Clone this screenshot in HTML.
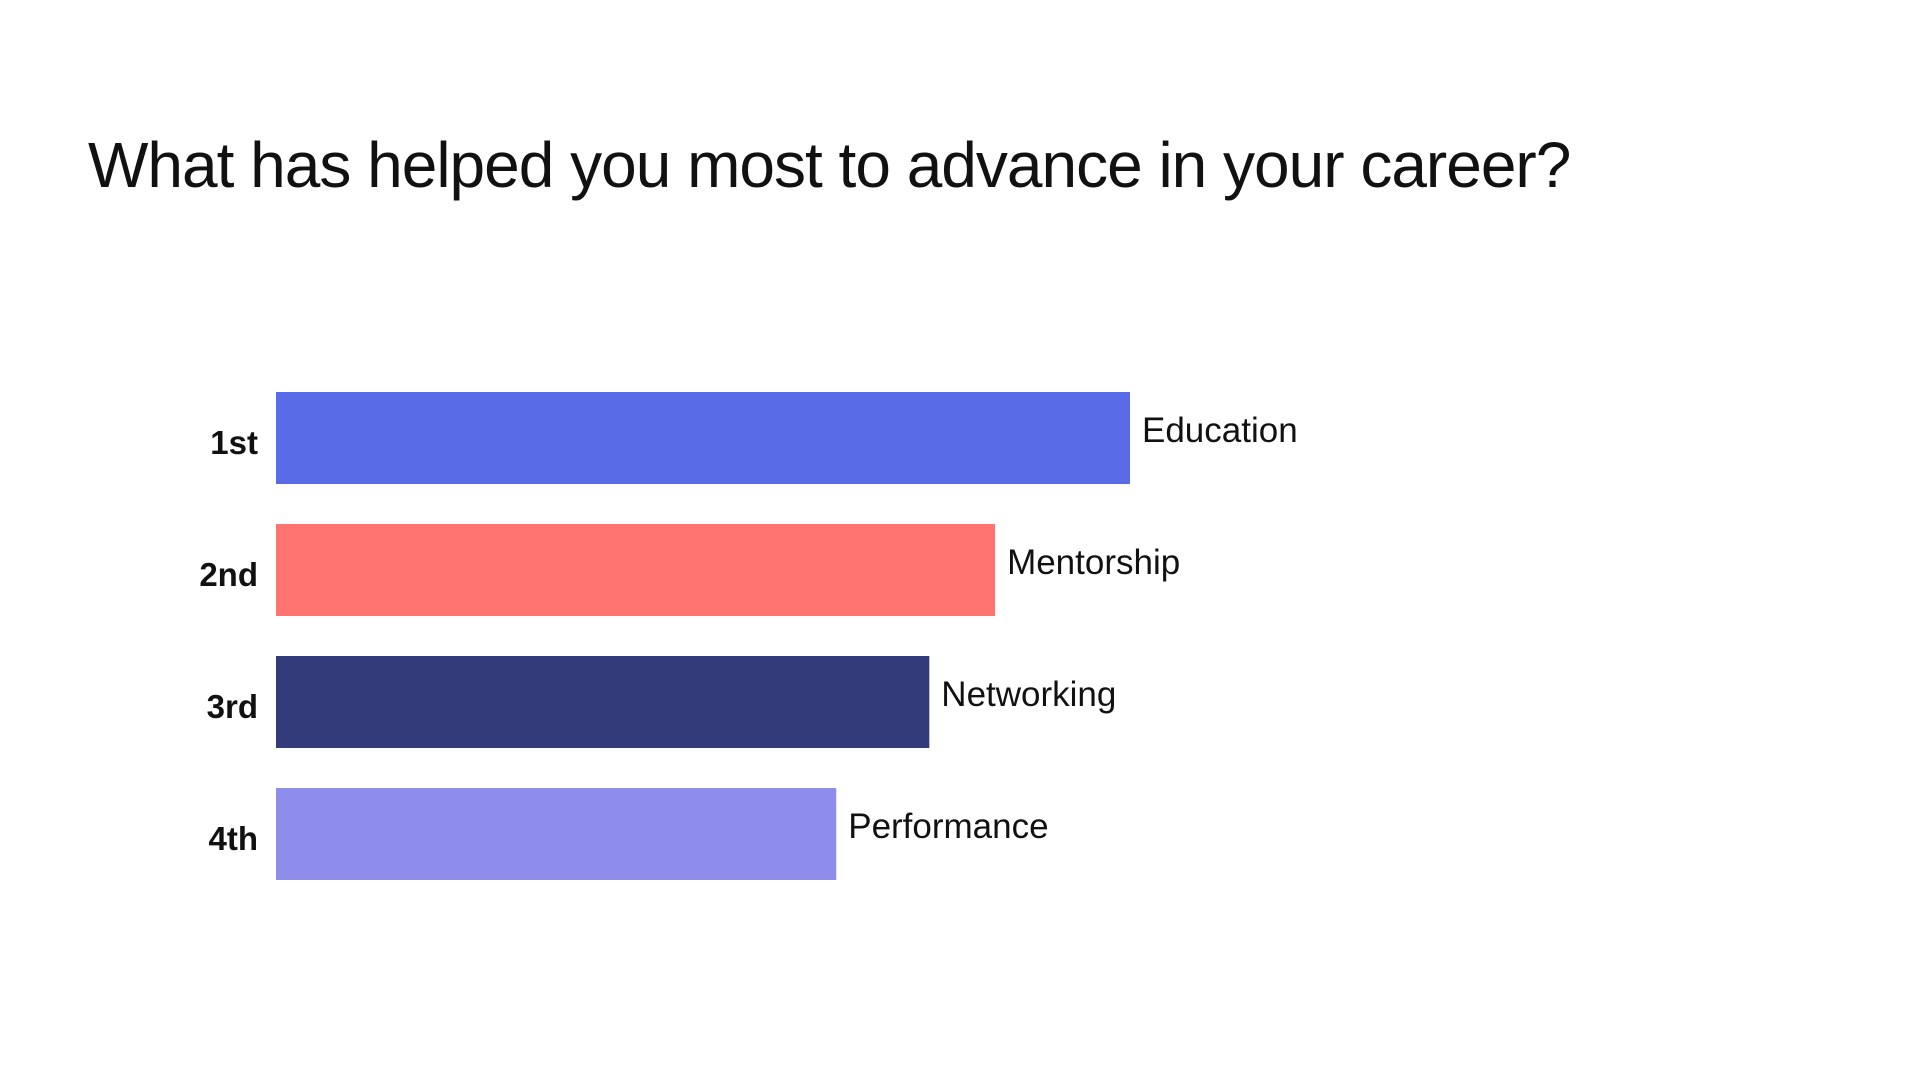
<!DOCTYPE html>
<html><head><meta charset="utf-8"><style>
html,body{margin:0;padding:0;background:#fff;width:1920px;height:1080px;overflow:hidden;font-family:"Liberation Sans",sans-serif;color:#111;}
#title{position:absolute;left:88px;top:128px;font-size:64px;font-weight:400;letter-spacing:-1px;margin:0;white-space:nowrap;}
svg{position:absolute;left:0;top:0;}
</style></head><body>
<h1 id="title">What has helped you most to advance in your career?</h1>
<svg id="chart" width="1920" height="1080"></svg>
<script>
const ranks = ["1st","2nd","3rd","4th"];
const categories = ["Education","Mentorship","Networking","Performance"];
const values = [100, 84.2, 76.5, 65.6];
const colors = ["#5a6be8","#ff7470","#333b7a","#8e8deb"];
const svg = document.getElementById('chart');
const NS = 'http://www.w3.org/2000/svg';
const x0 = 276, xMax = 100, width = 854;
const xScale = v => x0 + v / xMax * width;
const yTop = 392, step = 132, barH = 92;
const yScale = i => yTop + i * step;
categories.forEach((c, i) => {
  const y = yScale(i);
  const r = document.createElementNS(NS, 'rect');
  r.setAttribute('x', x0);
  r.setAttribute('y', y);
  r.setAttribute('width', xScale(values[i]) - x0);
  r.setAttribute('height', barH);
  r.setAttribute('fill', colors[i]);
  
  
  svg.appendChild(r);
  const rk = document.createElementNS(NS, 'text');
  rk.setAttribute('x', 258);
  rk.setAttribute('y', y + 62);
  rk.setAttribute('text-anchor', 'end');
  rk.setAttribute('font-size', '33');
  rk.setAttribute('font-weight', '600');
  rk.setAttribute('fill', '#111');
  rk.textContent = ranks[i];
  
  
  svg.appendChild(rk);
  const t = document.createElementNS(NS, 'text');
  t.setAttribute('x', xScale(values[i]) + 12);
  t.setAttribute('y', y + 50);
  t.setAttribute('font-size', '35');
  t.setAttribute('fill', '#111');
  t.textContent = c;
  
  
  svg.appendChild(t);
});
</script>
</body></html>
